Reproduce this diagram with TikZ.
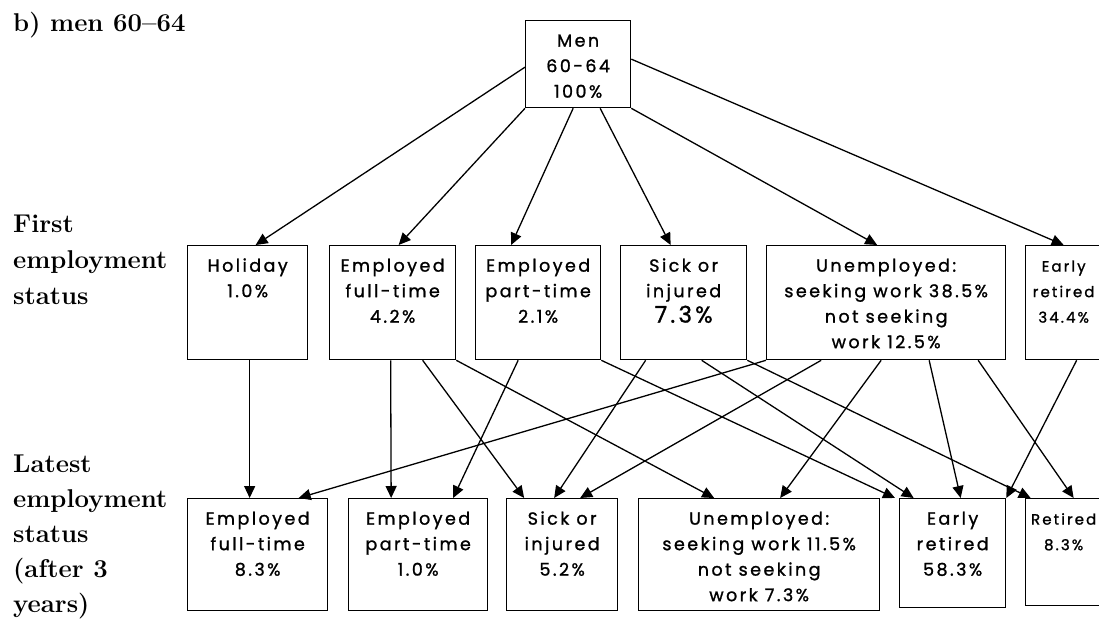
\documentclass[tikz,border=0pt]{standalone}
\usepackage{fontspec}
\newfontfamily\boxfont[LetterSpace=14,FakeBold=1.2]{Poppins}
\usetikzlibrary{arrows.meta}

\tikzset{
  stat/.style={draw, line width=1.3pt, inner sep=0pt, anchor=north west,
    font=\boxfont\fontsize{17.5}{25.5}\selectfont},
  edgestat/.style={stat, font=\boxfont\fontsize{15}{25.5}\selectfont},
  flow/.style={line width=1.3pt, -{Triangle[length=12pt,width=11pt]}},
  rowlab/.style={anchor=base west, inner sep=0pt,
    font=\fontsize{25.7}{35}\selectfont\bfseries},
}
% top aligned text block of a status box: width, height, lines
\newcommand{\boxtxt}[3]{\parbox[t][#2][t]{#1}{\centering\rule{0pt}{26pt}#3}}

\begin{document}
\begin{tikzpicture}[x=1pt,y=-1pt]
    \useasboundingbox (0,0) rectangle (1099,639);
    \clip (0,0) rectangle (1099,639);
    \node[rowlab] (title) at (13,32) {b) men 60--64};
    \foreach \t [count=\i] in {First,employment,status}
      \node[rowlab] (first\i) at (13,196+36*\i) {\t};
    \foreach \t [count=\i] in {Latest,employment,status,{(after 3},{years)}}
      \node[rowlab] (last\i) at (13,437+35*\i) {\t};
    % root
    \node[stat] (men) at (525,20) {\boxtxt{105pt}{87pt}{Men\\60-64\\100\%}};
    % first employment status
    \node[stat] (hol) at (187,245) {\boxtxt{120pt}{114pt}{Holiday\\1.0\%}};
    \node[stat] (eft1) at (329,245) {\boxtxt{126pt}{114pt}{Employed\\full-time\\4.2\%}};
    \node[stat] (ept1) at (475,245) {\boxtxt{125pt}{114pt}{Employed\\part-time\\2.1\%}};
    \node[stat] (sick1) at (620,245) {\boxtxt{126pt}{114pt}{Sick or\\injured\\{\fontsize{23}{25.5}\selectfont 7.3\%}}};
    \node[stat] (unemp1) at (766,245) {\boxtxt{239pt}{114pt}{Unemployed:\\seeking work 38.5\%\\not seeking\\work 12.5\%}};
    \node[edgestat] (early1) at (1025,245) {\boxtxt{76pt}{114pt}{Early\\retired\\34.4\%}};
    % latest employment status
    \node[stat] (eft2) at (187,498) {\boxtxt{140pt}{112pt}{Employed\\full-time\\8.3\%}};
    \node[stat] (ept2) at (348,498) {\boxtxt{139pt}{112pt}{Employed\\part-time\\1.0\%}};
    \node[stat] (sick2) at (506,498) {\boxtxt{111pt}{112pt}{Sick or\\injured\\5.2\%}};
    \node[stat] (unemp2) at (638,498) {\boxtxt{241pt}{112pt}{Unemployed:\\seeking work 11.5\%\\not seeking\\work 7.3\%}};
    \node[stat] (early2) at (899,498) {\boxtxt{106pt}{109pt}{Early\\retired\\58.3\%}};
    \node[edgestat] (ret2) at (1025,498) {\boxtxt{76pt}{107pt}{Retired\\8.3\%}};
    % root to first status
    \draw[flow] ([yshift=-3]men.west) -- ([xshift=8]hol.north);
    \draw[flow] (men.south west) -- ([xshift=6]eft1.north);
    \draw[flow] ([xshift=-5]men.south) -- ([xshift=-27]ept1.north);
    \draw[flow] ([xshift=22]men.south) -- ([xshift=-13]sick1.north);
    \draw[flow] (men.south east) -- ([xshift=-9]unemp1.north);
    \draw[flow] ([yshift=5]men.east) -- (early1.north);
    % first to latest status
    \draw[flow] ([xshift=2]hol.south) -- ([xshift=-8]eft2.north);
    \draw[flow] ([xshift=-2]eft1.south) -- ([xshift=-27]ept2.north);
    \draw[flow] ([xshift=30]eft1.south) -- ([xshift=-38]sick2.north);
    \draw[flow] (eft1.south east) -- ([xshift=-45]unemp2.north);
    \draw[flow] ([xshift=-20]ept1.south) -- ([xshift=35]ept2.north);
    \draw[flow] (ept1.south east) -- ([xshift=-4]early2.north west);
    \draw[flow] ([xshift=-38]sick1.south) -- ([xshift=-8]sick2.north);
    \draw[flow] ([xshift=18]sick1.south) -- ([xshift=-39]early2.north);
    \draw[flow] (sick1.south east) -- ([xshift=-33]ret2.north);
    \draw[flow] (unemp1.south west) -- ([xshift=41]eft2.north);
    \draw[flow] ([xshift=-65]unemp1.south) -- ([xshift=18]sick2.north);
    \draw[flow] ([xshift=-5]unemp1.south) -- ([xshift=21]unemp2.north);
    \draw[flow] ([xshift=43]unemp1.south) -- ([xshift=8]early2.north);
    \draw[flow] ([xshift=92]unemp1.south) -- ([xshift=10]ret2.north);
    \draw[flow] ([xshift=13]early1.south) -- (early2.north east);
\end{tikzpicture}
\end{document}
